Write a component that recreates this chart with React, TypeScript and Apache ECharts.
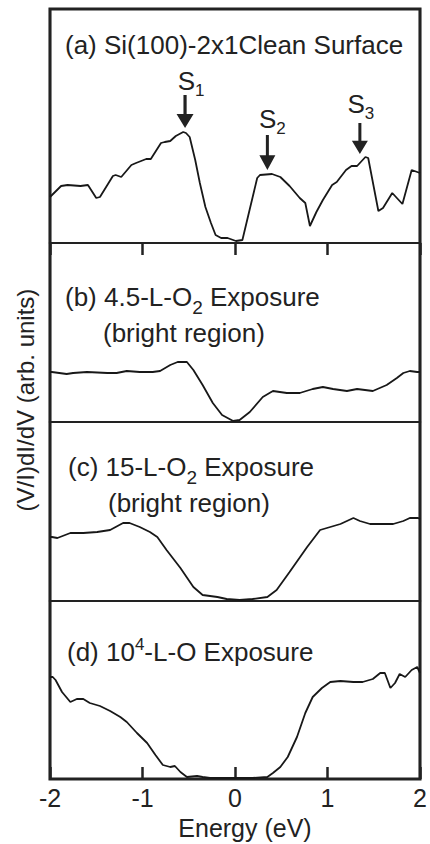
import React, { useEffect, useRef } from 'react';
import * as echarts from 'echarts';

// Panel (a) Si(100)-2x1 clean surface
const energyA = [-2.00,-1.88,-1.81,-1.67,-1.59,-1.50,-1.46,-1.32,-1.29,-1.23,-1.12,-1.07,-0.96,-0.91,-0.80,-0.76,-0.70,-0.64,-0.56,-0.53,-0.49,-0.43,-0.38,-0.32,-0.26,-0.21,-0.15,-0.08,0.01,0.08,0.16,0.24,0.27,0.40,0.49,0.59,0.70,0.76,0.81,0.88,0.95,1.05,1.10,1.20,1.26,1.32,1.41,1.44,1.55,1.60,1.70,1.81,1.91,2.00];
const valueA = [46,57,58,57,58,45,46,67,68,66,78,80,84,84,100,101,102,107,111,110,106,83,60,36,20,8,5,5,2,3,34,65,68,69,66,57,45,40,17,31,43,58,61,73,77,77,86,85,32,35,50,39,73,70];

// Panel (b) 4.5-L-O2 exposure
const energyB = [-2.00,-1.98,-1.82,-1.75,-1.60,-1.38,-1.28,-1.17,-1.03,-0.89,-0.81,-0.70,-0.62,-0.52,-0.45,-0.35,-0.24,-0.14,-0.02,0.05,0.16,0.30,0.41,0.56,0.70,0.84,0.95,1.06,1.21,1.32,1.49,1.64,1.75,1.82,1.89,1.97,2.00];
const valueB = [50,50,48,49,50,49,49,51,50,50,51,57,60,60,52,37,19,7,1,2,10,25,31,29,29,33,35,33,31,33,31,37,44,49,51,50,50];

// Panel (c) 15-L-O2 exposure
const energyC = [-2.00,-1.98,-1.92,-1.78,-1.64,-1.49,-1.35,-1.21,-1.14,-1.03,-0.92,-0.84,-0.74,-0.59,-0.45,-0.35,-0.19,-0.09,0.05,0.19,0.35,0.45,0.59,0.78,0.92,1.03,1.14,1.28,1.35,1.46,1.71,1.82,1.89,1.98,2.00];
const valueC = [64,64,63,68,68,69,71,78,78,74,69,64,51,33,14,6,4,2,1,2,4,11,29,54,71,74,77,83,80,77,77,80,83,83,82];

// Panel (d) 10^4-L-O exposure
const energyD = [-2.00,-1.97,-1.94,-1.87,-1.78,-1.71,-1.64,-1.57,-1.46,-1.35,-1.24,-1.17,-1.06,-0.95,-0.86,-0.78,-0.70,-0.65,-0.59,-0.52,-0.41,-0.35,-0.27,-0.09,0.19,0.35,0.41,0.49,0.57,0.67,0.76,0.84,0.94,1.03,1.14,1.28,1.38,1.49,1.57,1.62,1.68,1.73,1.78,1.84,1.91,1.97,2.00];
const valueD = [102,102,99,87,77,80,80,76,73,68,62,57,46,36,24,14,12,13,7,2,3,2,1,1,1,2,6,12,22,42,66,82,91,97,98,97,97,100,106,106,91,96,105,102,109,112,106];

// Peak markers S1, S2, S3 in panel (a)
const peakEnergy = [-0.54, 0.35, 1.35];
const peakValue = [115, 73, 89];
const peakIndex = ['1', '2', '3'];

// Axis
const energyMin = -2;
const energyMax = 2;
const energyStep = 1;
const panelRange = [234, 179, 179, 178];
const xAxisTitle = 'Energy (eV)';
const yAxisTitle = '(V/I)dI/dV (arb. units)';

const FONT = '"Liberation Sans", Arial, Helvetica, sans-serif';
const INK = '#222222';
const LINE = '#181818';

const zip = (xs: number[], ys: number[]) => xs.map((x, i) => [x, ys[i]]);

export default function App() {
  const ref = useRef<HTMLDivElement>(null);

  useEffect(() => {
    if (!ref.current) return;
    const chart = echarts.init(ref.current, null, { renderer: 'svg' });

    const gridBoxes = [
      { top: 9, height: 234 },
      { top: 243, height: 179 },
      { top: 422, height: 179 },
      { top: 601, height: 178 },
    ];
    const grids = gridBoxes.map((g) => ({
      left: 50,
      width: 370,
      top: g.top,
      height: g.height,
      show: true,
      borderColor: INK,
      borderWidth: 2.2,
      backgroundColor: 'transparent',
    }));

    const tickStyle = { show: true, inside: true, length: 12, lineStyle: { color: INK, width: 2.5 } };
    const xAxes = [0, 1, 2, 3].map((i) => {
      const base: any = {
        gridIndex: i,
        type: 'value',
        min: energyMin,
        max: energyMax,
        interval: energyStep,
        axisLine: { show: false },
        splitLine: { show: false },
        axisLabel: { show: false },
        axisTick: { show: false },
      };
      if (i === 0) {
        base.position = 'top';
        base.axisTick = tickStyle;
      } else if (i === 3) {
        base.position = 'bottom';
        base.axisTick = tickStyle;
        base.axisLabel = {
          show: true,
          fontFamily: FONT,
          fontSize: 25,
          color: INK,
          margin: 6,
          showMinLabel: true,
          showMaxLabel: true,
          formatter: (v: number) => String(v),
        };
        base.name = xAxisTitle;
        base.nameLocation = 'middle';
        base.nameGap = 36;
        base.nameTextStyle = { fontFamily: FONT, fontSize: 25, color: INK, padding: [0, 0, 0, 20] };
      }
      return base;
    });
    const yAxes = [0, 1, 2, 3].map((i) => ({
      gridIndex: i,
      type: 'value',
      min: 0,
      max: panelRange[i],
      show: false,
    }));

    const lineStyle = { color: LINE, width: 1.8 };
    const datasets = [zip(energyA, valueA), zip(energyB, valueB), zip(energyC, valueC), zip(energyD, valueD)];

    const arrowPath = 'path://M6.5,0 L9.5,0 L9.5,19 L16,19 L8,33 L0,19 L6.5,19 Z';
    const arrowSizes = [[17, 33], [16, 35], [16, 31]];
    const labelOffsets = [[6, 4], [5, 2], [1, -1]];

    const series: any[] = datasets.map((d, i) => ({
      type: 'line',
      xAxisIndex: i,
      yAxisIndex: i,
      data: d,
      symbol: 'none',
      showSymbol: false,
      lineStyle,
      silent: true,
    }));
    series[0].markPoint = {
      silent: true,
      data: peakEnergy.map((e, k) => ({
        coord: [e, peakValue[k]],
        symbol: arrowPath,
        symbolSize: arrowSizes[k],
        symbolOffset: [0, '-50%'],
        itemStyle: { color: INK },
        label: {
          show: true,
          position: 'top',
          distance: 0,
          offset: labelOffsets[k],
          formatter: '{s|S}{n|' + peakIndex[k] + '}',
          rich: {
            s: { fontFamily: FONT, fontSize: 26, lineHeight: 36, color: INK },
            n: { fontFamily: FONT, fontSize: 17, lineHeight: 17, color: INK, verticalAlign: 'bottom' },
          },
        },
      })),
    };

    const rich = {
      m: { fontFamily: FONT, fontSize: 26, lineHeight: 40, fill: INK, color: INK },
      s: { fontFamily: FONT, fontSize: 19, lineHeight: 19, fill: INK, color: INK, verticalAlign: 'bottom' },
      p: { fontFamily: FONT, fontSize: 17, lineHeight: 17, fill: INK, color: INK, verticalAlign: 'top', padding: [4, 0, 0, 0] },
    };
    const mkText = (x: number, y: number, text: string) => ({
      type: 'text',
      x,
      y,
      silent: true,
      style: {
        text,
        rich,
        fill: INK,
        fontFamily: FONT,
        fontSize: 26,
        align: 'left',
        verticalAlign: 'middle',
        textAlign: 'left',
        textVerticalAlign: 'middle',
      },
    });

    chart.setOption({
      animation: false,
      backgroundColor: '#ffffff',
      grid: grids,
      xAxis: xAxes,
      yAxis: yAxes,
      series,
      graphic: [
        {
          type: 'rect',
          silent: true,
          shape: { x: 50, y: 9, width: 370, height: 770 },
          style: { fill: 'none', stroke: INK, lineWidth: 3 },
        },
        mkText(65, 45, '{m|(a) Si(100)-2x1Clean Surface}'),
        mkText(65, 297, '{m|(b) 4.5-L-O}{s|2}{m| Exposure}'),
        mkText(103, 333, '{m|(bright region)}'),
        mkText(68, 467, '{m|(c) 15-L-O}{s|2}{m| Exposure}'),
        mkText(108, 503, '{m|(bright region)}'),
        mkText(67, 652, '{m|(d) 10}{p|4}{m|-L-O Exposure}'),
        {
          type: 'text',
          x: 25,
          y: 400,
          rotation: Math.PI / 2,
          silent: true,
          style: {
            text: yAxisTitle,
            fill: INK,
            fontFamily: FONT,
            fontSize: 24,
            align: 'center',
            verticalAlign: 'middle',
            textAlign: 'center',
            textVerticalAlign: 'middle',
          },
        },
      ],
    });

    return () => chart.dispose();
  }, []);

  return (
    <div
      ref={ref}
      style={{ position: 'absolute', left: 0, top: 0, width: 430, height: 844, background: '#fff' }}
    />
  );
}
